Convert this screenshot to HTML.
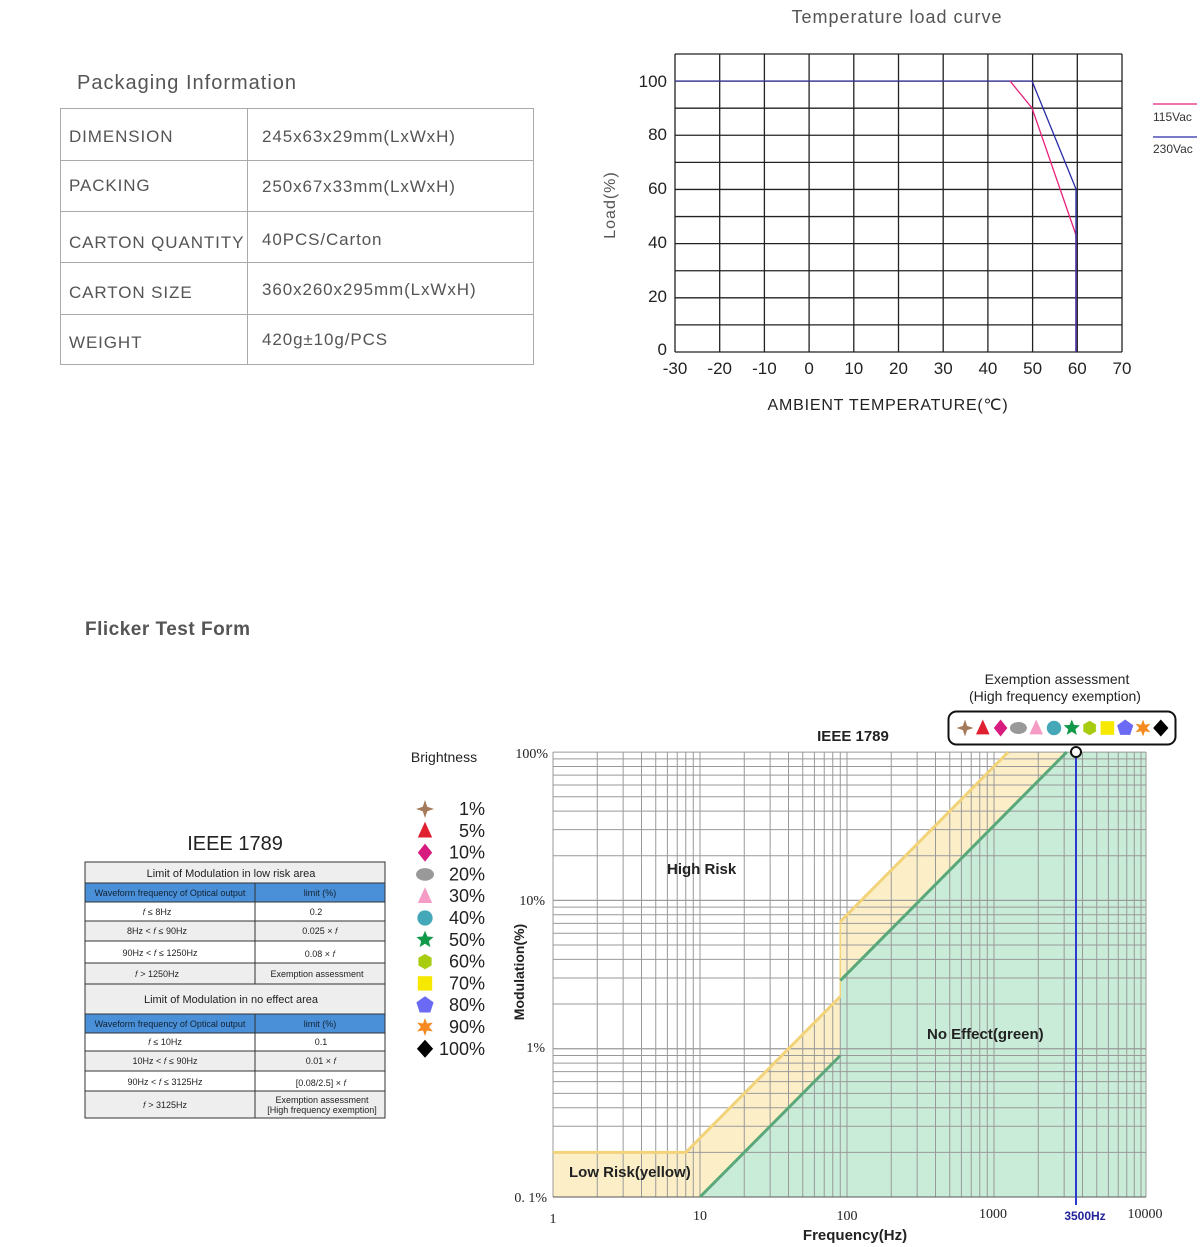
<!DOCTYPE html>
<html><head><meta charset="utf-8"><style>
body{margin:0;background:#fff;width:1200px;height:1247px;overflow:hidden}
svg{display:block}
</style></head><body>
<svg id="s" width="1200" height="1247" xmlns="http://www.w3.org/2000/svg" font-family="Liberation Sans, sans-serif">
<!-- Packaging -->
<text x="77" y="89" font-size="20" fill="#555" letter-spacing="1">Packaging Information</text>
<g stroke="#aaa" stroke-width="1" fill="none">
<rect x="60.5" y="108.5" width="473" height="256"/>
<line x1="247.5" y1="108" x2="247.5" y2="365"/>
<line x1="60" y1="160.5" x2="533" y2="160.5"/>
<line x1="60" y1="211.5" x2="533" y2="211.5"/>
<line x1="60" y1="262.5" x2="533" y2="262.5"/>
<line x1="60" y1="314.5" x2="533" y2="314.5"/>
</g>
<g font-size="17" fill="#555" letter-spacing="0.9">
<text x="69" y="142">DIMENSION</text><text x="262" y="142">245x63x29mm(LxWxH)</text>
<text x="69" y="191">PACKING</text><text x="262" y="192">250x67x33mm(LxWxH)</text>
<text x="69" y="248">CARTON QUANTITY</text><text x="262" y="245">40PCS/Carton</text>
<text x="69" y="298">CARTON SIZE</text><text x="262" y="295">360x260x295mm(LxWxH)</text>
<text x="69" y="348">WEIGHT</text><text x="262" y="345">420g±10g/PCS</text>
</g>
<!-- Temperature chart -->
<text x="897" y="23" font-size="18" fill="#555" text-anchor="middle" letter-spacing="1">Temperature load curve</text>
<g id="tg" stroke="#222" stroke-width="1.3"></g>
<line x1="675" y1="81" x2="1032" y2="81" stroke="#3a3aa0" stroke-width="1.3"/>
<polyline points="1010,81 1032,108 1076,235 1076,352" fill="none" stroke="#e8207a" stroke-width="1.3"/>
<polyline points="1032,81 1076,189 1076,352" fill="none" stroke="#2a2aa8" stroke-width="1.3"/>
<g font-size="17" fill="#222" text-anchor="end">
<text x="667" y="87">100</text><text x="667" y="140">80</text><text x="667" y="194">60</text><text x="667" y="248">40</text><text x="667" y="302">20</text><text x="667" y="355">0</text>
</g>
<g id="tx" font-size="17" fill="#222" text-anchor="middle"></g>
<text x="888" y="410" font-size="16" fill="#222" text-anchor="middle" letter-spacing="0.8">AMBIENT TEMPERATURE(℃)</text>
<text transform="translate(615,205) rotate(-90)" font-size="16" fill="#555" text-anchor="middle" letter-spacing="1">Load(%)</text>
<line x1="1153" y1="104" x2="1197" y2="104" stroke="#e8207a" stroke-width="1.3"/>
<line x1="1153" y1="137" x2="1197" y2="137" stroke="#2a2aa8" stroke-width="1.3"/>
<text x="1153" y="121" font-size="12" fill="#333">115Vac</text>
<text x="1153" y="153" font-size="12" fill="#333">230Vac</text>
<!-- Flicker -->
<text x="85" y="635" font-size="19" font-weight="bold" fill="#555" letter-spacing="0.5">Flicker Test Form</text>
<text x="235" y="850" font-size="20" fill="#222" text-anchor="middle">IEEE 1789</text>
<g stroke="#333" stroke-width="1" font-size="9" fill="#222">
<rect x="85" y="862" width="300" height="256" fill="#fff"/>
<rect x="85" y="862" width="300" height="21" fill="#eee"/>
<rect x="85" y="883" width="300" height="19" fill="#4a90d9"/>
<rect x="85" y="921" width="300" height="20" fill="#eee"/>
<rect x="85" y="963" width="300" height="51" fill="#eee"/>
<rect x="85" y="1014" width="300" height="19" fill="#4a90d9"/>
<rect x="85" y="1051" width="300" height="20" fill="#eee"/>
<rect x="85" y="1091" width="300" height="27" fill="#eee"/>
<g fill="none" stroke="#333">
<line x1="85" y1="902" x2="385" y2="902"/><line x1="85" y1="941" x2="385" y2="941"/>
<line x1="85" y1="1033" x2="385" y2="1033"/><line x1="85" y1="1071" x2="385" y2="1071"/><line x1="85" y1="1091" x2="385" y2="1091"/>
<line x1="255" y1="883" x2="255" y2="984"/><line x1="255" y1="1014" x2="255" y2="1118"/>
<line x1="85" y1="984" x2="385" y2="984"/>
</g>
</g>
<g font-size="9" fill="#222" text-anchor="middle">
<text x="231" y="877" font-size="11">Limit of Modulation in low risk area</text>
<text x="170" y="896" fill="#123">Waveform frequency of Optical output</text><text x="320" y="896" fill="#123">limit (%)</text>
<text x="157" y="915">𝑓 ≤ 8Hz</text><text x="316" y="915">0.2</text>
<text x="157" y="934">8Hz &lt; 𝑓 ≤ 90Hz</text><text x="320" y="934">0.025 × 𝑓</text>
<text x="160" y="956">90Hz &lt; 𝑓 ≤ 1250Hz</text><text x="320" y="957">0.08 × 𝑓</text>
<text x="157" y="977">𝑓 &gt; 1250Hz</text><text x="317" y="977">Exemption assessment</text>
<text x="231" y="1003" font-size="11">Limit of Modulation in no effect area</text>
<text x="170" y="1027" fill="#123">Waveform frequency of Optical output</text><text x="320" y="1027" fill="#123">limit (%)</text>
<text x="165" y="1045">𝑓 ≤ 10Hz</text><text x="321" y="1045">0.1</text>
<text x="165" y="1064">10Hz &lt; 𝑓 ≤ 90Hz</text><text x="321" y="1064">0.01 × 𝑓</text>
<text x="165" y="1085">90Hz &lt; 𝑓 ≤ 3125Hz</text><text x="321" y="1086">[0.08/2.5] × 𝑓</text>
<text x="165" y="1108">𝑓 &gt; 3125Hz</text><text x="322" y="1103">Exemption assessment</text><text x="322" y="1113">[High frequency exemption]</text>
</g>
<text x="444" y="762" font-size="14" fill="#222" text-anchor="middle">Brightness</text>
<g id="leg"></g>
<!-- log chart -->
<g id="fill"></g>
<g id="lg" stroke="#999" stroke-width="1"></g>
<g id="lines"></g>
<g font-family="Liberation Serif, serif" font-size="14" fill="#222">
<text x="548" y="758" text-anchor="end">100%</text>
<text x="545" y="905" text-anchor="end">10%</text>
<text x="545" y="1052" text-anchor="end">1%</text>
<text x="547" y="1202" text-anchor="end">0. 1%</text>
<text x="553" y="1223" text-anchor="middle">1</text>
<text x="700" y="1220" text-anchor="middle">10</text>
<text x="847" y="1220" text-anchor="middle">100</text>
<text x="993" y="1218" text-anchor="middle">1000</text>
<text x="1145" y="1218" text-anchor="middle">10000</text>
</g>
<text x="1085" y="1220" font-size="12" font-weight="bold" fill="#22229a" text-anchor="middle">3500Hz</text>
<text x="855" y="1240" font-size="15" font-weight="bold" fill="#222" text-anchor="middle">Frequency(Hz)</text>
<text transform="translate(524,972) rotate(-90)" font-size="14" font-weight="bold" fill="#222" text-anchor="middle">Modulation(%)</text>
<g font-size="15" font-weight="bold" fill="#222">
<text x="667" y="874">High Risk</text>
<text x="927" y="1039">No Effect(green)</text>
<text x="569" y="1177">Low Risk(yellow)</text>
<text x="853" y="741" text-anchor="middle">IEEE 1789</text>
</g>
<text x="1057" y="684" font-size="14" fill="#222" text-anchor="middle">Exemption assessment</text>
<text x="1055" y="701" font-size="14" fill="#222" text-anchor="middle">(High frequency exemption)</text>
<rect x="948.5" y="711.5" width="227" height="33" rx="8" fill="#fff" stroke="#111" stroke-width="2"/>
<g id="box"></g>
</svg>
<script>
const NS="http://www.w3.org/2000/svg";
function el(p,t,a){const e=document.createElementNS(NS,t);for(const k in a)e.setAttribute(k,a[k]);p.appendChild(e);return e;}
const tg=document.getElementById('tg');
for(let i=0;i<=10;i++){const x=675+i*44.7;el(tg,'line',{x1:x,y1:54,x2:x,y2:352});
 const t=el(document.getElementById('tx'),'text',{x:x,y:374});t.textContent=(-30+i*10);}
for(let j=0;j<=11;j++){const y=54+j*27.09;el(tg,'line',{x1:675,y1:y,x2:1122,y2:y});}
const X=f=>553+Math.log10(f)*147, Y=m=>1197-(Math.log10(m)+1)*148.3;
const lg=document.getElementById('lg');
for(let d=0;d<4;d++)for(let k=1;k<=10;k++){const x=X(k*Math.pow(10,d));el(lg,'line',{x1:x,y1:752,x2:x,y2:1197});}
for(let d=-1;d<2;d++)for(let k=1;k<=10;k++){const y=Y(k*Math.pow(10,d));el(lg,'line',{x1:553,y1:y,x2:1146,y2:y});}
el(lg,'line',{x1:1146,y1:752,x2:1146,y2:1197});
el(lg,'line',{x1:553,y1:1197,x2:1146,y2:1197,stroke:'#555'});
const fl=document.getElementById('fill');
const yel=[[1,0.2],[8,0.2],[90,2.25],[90,7.2],[1250,100]];
const grn=[[10,0.1],[90,0.9],[90,2.88],[3125,100]];
const P=a=>a.map(p=>X(p[0]).toFixed(1)+','+Y(p[1]).toFixed(1)).join(' ');
el(fl,'polygon',{points:P(yel)+' '+X(10000)+','+Y(100)+' '+X(10000)+','+Y(0.1)+' '+X(1)+','+Y(0.1),fill:'#fcefc8'});
el(fl,'polygon',{points:P(grn)+' 1146,'+Y(100)+' 1146,'+Y(0.1),fill:'#c9ecd9'});
const ln=document.getElementById('lines');
el(ln,'polyline',{points:P([[1,0.2],[8,0.2],[90,2.25]]),fill:'none',stroke:'#f2d37a','stroke-width':3});
el(ln,'polyline',{points:P([[90,7.2],[1250,100]]),fill:'none',stroke:'#f2d37a','stroke-width':3});
el(ln,'line',{x1:X(90),y1:Y(2.25),x2:X(90),y2:Y(7.2),stroke:'#f2d37a','stroke-width':1.5});
el(ln,'polyline',{points:P([[10,0.1],[90,0.9]]),fill:'none',stroke:'#5aa879','stroke-width':3});
el(ln,'polyline',{points:P([[90,2.88],[3125,100]]),fill:'none',stroke:'#5aa879','stroke-width':3});
el(ln,'line',{x1:1076,y1:752,x2:1076,y2:1205,stroke:'#2a3ad0','stroke-width':2});
el(ln,'circle',{cx:1076,cy:752,r:5,fill:'#fff',stroke:'#111','stroke-width':2});
function mk(g,i,x,y,s){const c=['#a57a5a','#e02030','#d81b7e','#999','#f59cc5','#44a8b8','#11994a','#a8cc10','#f7e800','#6a6af5','#f58a20','#000'][i];
 const r=s;
 if(i==0){el(g,'polygon',{points:`${x},${y-r} ${x+r*.25},${y-r*.25} ${x+r},${y} ${x+r*.25},${y+r*.25} ${x},${y+r} ${x-r*.25},${y+r*.25} ${x-r},${y} ${x-r*.25},${y-r*.25}`,fill:c});}
 else if(i==1||i==4){el(g,'polygon',{points:`${x},${y-r} ${x+r*.8},${y+r*.75} ${x-r*.8},${y+r*.75}`,fill:c});}
 else if(i==2){el(g,'polygon',{points:`${x},${y-r} ${x+r*.8},${y} ${x},${y+r} ${x-r*.8},${y}`,fill:c});}
 else if(i==3){el(g,'ellipse',{cx:x,cy:y,rx:r,ry:r*.7,fill:c});}
 else if(i==5){el(g,'circle',{cx:x,cy:y,r:r*.85,fill:c});}
 else if(i==6||i==10){let n=i==6?5:6,pts=[];for(let k=0;k<2*n;k++){const a=-Math.PI/2+k*Math.PI/n,rr=k%2?r*.45:r;pts.push((x+rr*Math.cos(a)).toFixed(1)+','+(y+rr*Math.sin(a)).toFixed(1));}el(g,'polygon',{points:pts.join(' '),fill:c});}
 else if(i==7){let pts=[];for(let k=0;k<6;k++){const a=-Math.PI/2+k*Math.PI/3;pts.push((x+r*.85*Math.cos(a)).toFixed(1)+','+(y+r*.85*Math.sin(a)).toFixed(1));}el(g,'polygon',{points:pts.join(' '),fill:c});}
 else if(i==8){el(g,'rect',{x:x-r*.8,y:y-r*.8,width:r*1.6,height:r*1.6,fill:c});}
 else if(i==9){let pts=[];for(let k=0;k<5;k++){const a=-Math.PI/2+k*2*Math.PI/5;pts.push((x+r*Math.cos(a)).toFixed(1)+','+(y+r*Math.sin(a)).toFixed(1));}el(g,'polygon',{points:pts.join(' '),fill:c});}
 else {el(g,'polygon',{points:`${x},${y-r} ${x+r*.9},${y} ${x},${y+r} ${x-r*.9},${y}`,fill:c});}
}
const leg=document.getElementById('leg'),labs=['1%','5%','10%','20%','30%','40%','50%','60%','70%','80%','90%','100%'];
labs.forEach((l,i)=>{const y=809+i*21.8;mk(leg,i,425,y,9);const t=el(leg,'text',{x:485,y:y+6,'font-size':18,fill:'#222','text-anchor':'end'});t.textContent=l;});
const box=document.getElementById('box');
for(let i=0;i<12;i++)mk(box,i,965+i*17.8,728,8.5);
</script>
</body></html>
